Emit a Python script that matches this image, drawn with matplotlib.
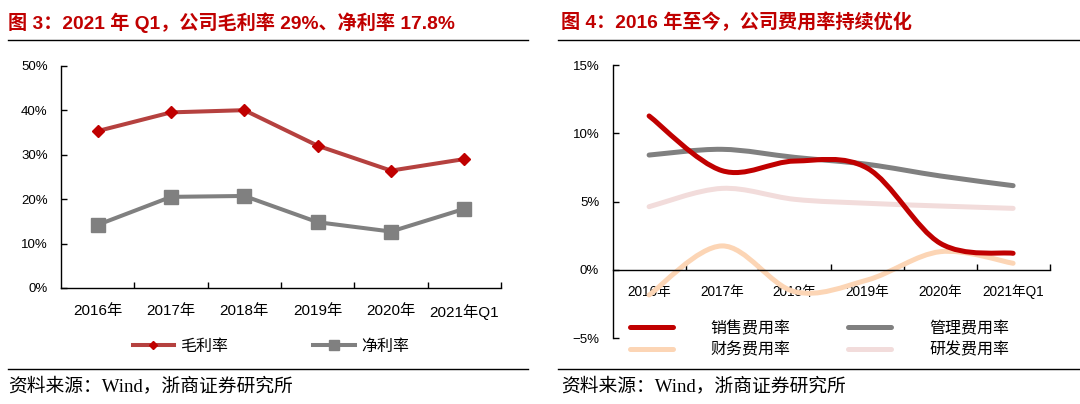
import matplotlib
matplotlib.use('Agg')
import matplotlib.pyplot as plt
from matplotlib.path import Path
from matplotlib.patches import PathPatch
from matplotlib.lines import Line2D
import numpy as np

plt.rcParams['font.family'] = ['Liberation Sans', 'Noto Sans CJK SC']
plt.rcParams['axes.unicode_minus'] = True

# ---------------- data ----------------
years = ['2016年', '2017年', '2018年', '2019年', '2020年', '2021年Q1']
gross_margin = [35.3, 39.5, 40.0, 32.0, 26.4, 29.0]
net_margin = [14.2, 20.5, 20.7, 14.8, 12.7, 17.8]

sales_rate = [11.27, 7.27, 7.97, 7.44, 1.95, 1.22]
admin_rate = [8.41, 8.83, 8.24, 7.73, 6.88, 6.17]
finance_rate = [-1.83, 1.76, -1.59, -0.73, 1.34, 0.49]
rd_rate = [4.63, 5.97, 5.17, 4.88, 4.68, 4.51]

left_yticks = [0, 10, 20, 30, 40, 50]
right_yticks = [-5, 0, 5, 10, 15]

left_title = '图 3：2021 年 Q1，公司毛利率 29%、净利率 17.8%'
right_title = '图 4：2016 年至今，公司费用率持续优化'
source_text = '资料来源：Wind，浙商证券研究所'
left_labels = ['毛利率', '净利率']
right_labels = ['销售费用率', '管理费用率', '财务费用率', '研发费用率']

# ---------------- layout helpers ----------------
W, H = 1080, 404
fig = plt.figure(figsize=(W / 100, H / 100), dpi=100)


def fx(px):
    return px / W


def fy(py):
    return 1 - py / H


TITLE_RED = '#C00000'

# ---------------- left chart ----------------
ax1 = fig.add_axes([fx(61), fy(288), 440 / W, (288 - 65.7) / H])
x = np.arange(len(years))
ax1.plot(x, gross_margin, color='#B5413F', lw=2.9, marker='D', ms=6.3,
         mfc='#C00000', mec='#C00000', zorder=3, solid_joinstyle='round')
ax1.plot(x, net_margin, color='#808080', lw=2.9, marker='s', ms=10.5,
         mfc='#808080', mec='#808080', zorder=3)
ax1.set_xlim(-0.5, len(years) - 0.5)
ax1.set_ylim(0, 50)
ax1.set_yticks(left_yticks)
ax1.set_yticklabels([f'{v}%' for v in left_yticks])
ax1.set_xticks(x)
ax1.set_xticklabels(years)
ax1.set_xticks(np.arange(len(years)) + 0.5, minor=True)
for s in ['top', 'right']:
    ax1.spines[s].set_visible(False)
for s in ['left', 'bottom']:
    ax1.spines[s].set_linewidth(1.0)
    ax1.spines[s].set_color('#000000')
ax1.tick_params(axis='x', which='major', length=0, pad=11.5, labelsize=11)
ax1.tick_params(axis='x', which='minor', direction='in', length=4, width=1.0)
ax1.tick_params(axis='y', direction='in', length=4, width=1.0, pad=9.5, labelsize=9.5)

# ---------------- right chart ----------------
ax2 = fig.add_axes([fx(612.7), fy(338.3), 436.8 / W, (338.3 - 65) / H])


def smooth_line(ax, xs, ys, color, lw, z):
    pts = np.column_stack([xs, ys]).astype(float)
    n = len(pts)
    verts = [tuple(pts[0])]
    codes = [Path.MOVETO]
    t = 1.0 / 6.0
    for i in range(n - 1):
        p_prev = pts[i - 1] if i > 0 else pts[i]
        p_next2 = pts[i + 2] if i + 2 < n else pts[i + 1]
        c1 = pts[i] + (pts[i + 1] - p_prev) * t
        c2 = pts[i + 1] - (p_next2 - pts[i]) * t
        verts += [tuple(c1), tuple(c2), tuple(pts[i + 1])]
        codes += [Path.CURVE4] * 3
    patch = PathPatch(Path(verts, codes), facecolor='none', edgecolor=color,
                      lw=lw, capstyle='round', joinstyle='round', zorder=z)
    ax.add_patch(patch)


SALES_C, ADMIN_C, FIN_C, RD_C = '#C00000', '#808080', '#FCD5B5', '#F2DCDB'
LW2 = 3.6
smooth_line(ax2, x, finance_rate, FIN_C, LW2, 2)
smooth_line(ax2, x, rd_rate, RD_C, LW2, 2.1)
smooth_line(ax2, x, admin_rate, ADMIN_C, LW2, 2.2)
smooth_line(ax2, x, sales_rate, SALES_C, LW2, 2.3)

ax2.set_xlim(-0.5, len(years) - 0.5)
ax2.set_ylim(-5, 15)
ax2.set_yticks(right_yticks)
ax2.set_yticklabels([f'{v}%'.replace('-', '\u2212') for v in right_yticks])
ax2.set_xticks(x)
ax2.set_xticklabels(years)
ax2.set_xticks(np.arange(len(years)) + 0.5, minor=True)
for s in ['top', 'right']:
    ax2.spines[s].set_visible(False)
ax2.spines['bottom'].set_position(('data', 0))
for s in ['left', 'bottom']:
    ax2.spines[s].set_linewidth(1.0)
    ax2.spines[s].set_color('#000000')
ax2.tick_params(axis='x', which='major', length=0, pad=10.5, labelsize=9.8)
ax2.tick_params(axis='x', which='minor', direction='in', length=4, width=1.0)
ax2.tick_params(axis='y', direction='in', length=4, width=1.0, pad=9.7, labelsize=9.5)

# ---------------- legends ----------------
h_gross = Line2D([], [], color='#B5413F', lw=2.9, marker='D', ms=4.5,
                 mfc='#C00000', mec='#C00000')
h_net = Line2D([], [], color='#808080', lw=2.9, marker='s', ms=7,
               mfc='#808080', mec='#808080')
fig.legend([h_gross, h_net], left_labels, loc='center left',
           bbox_to_anchor=(fx(132.6), fy(346.3)), ncol=2, frameon=False,
           fontsize=11.5, handlelength=2.6, handletextpad=0.4,
           columnspacing=5.3, borderpad=0, borderaxespad=0)

rh = [Line2D([], [], color=c, lw=LW2, solid_capstyle='round')
      for c in [SALES_C, FIN_C, ADMIN_C, RD_C]]
rl = [right_labels[0], right_labels[2], right_labels[1], right_labels[3]]
fig.legend(rh, rl, loc='center left', bbox_to_anchor=(fx(630.2), fy(339.1)),
           ncol=2, frameon=False, fontsize=11.5, handlelength=2.65,
           handletextpad=2.4, columnspacing=3.6, labelspacing=0.38,
           borderpad=0, borderaxespad=0)

# ---------------- titles, rules, sources ----------------
fig.text(fx(8.3), fy(22.4), left_title, fontsize=13.8, fontweight='bold',
         color=TITLE_RED, ha='left', va='center')
fig.text(fx(560.7), fy(22.4), right_title, fontsize=13.8, fontweight='bold',
         color=TITLE_RED, ha='left', va='center')

for (x0, x1) in [(8, 528), (558, 1080)]:
    for yy in [39.6, 368.7]:
        fig.add_artist(Line2D([fx(x0), fx(x1)], [fy(yy), fy(yy)],
                              color='#000000', lw=1.0))

src_family = ['Liberation Serif', 'Noto Sans CJK SC']
fig.text(fx(8.6), fy(386), source_text, fontsize=13.5, family=src_family,
         ha='left', va='center')
fig.text(fx(561.3), fy(386), source_text, fontsize=13.5, family=src_family,
         ha='left', va='center')

fig.savefig('out.png', dpi=100)
